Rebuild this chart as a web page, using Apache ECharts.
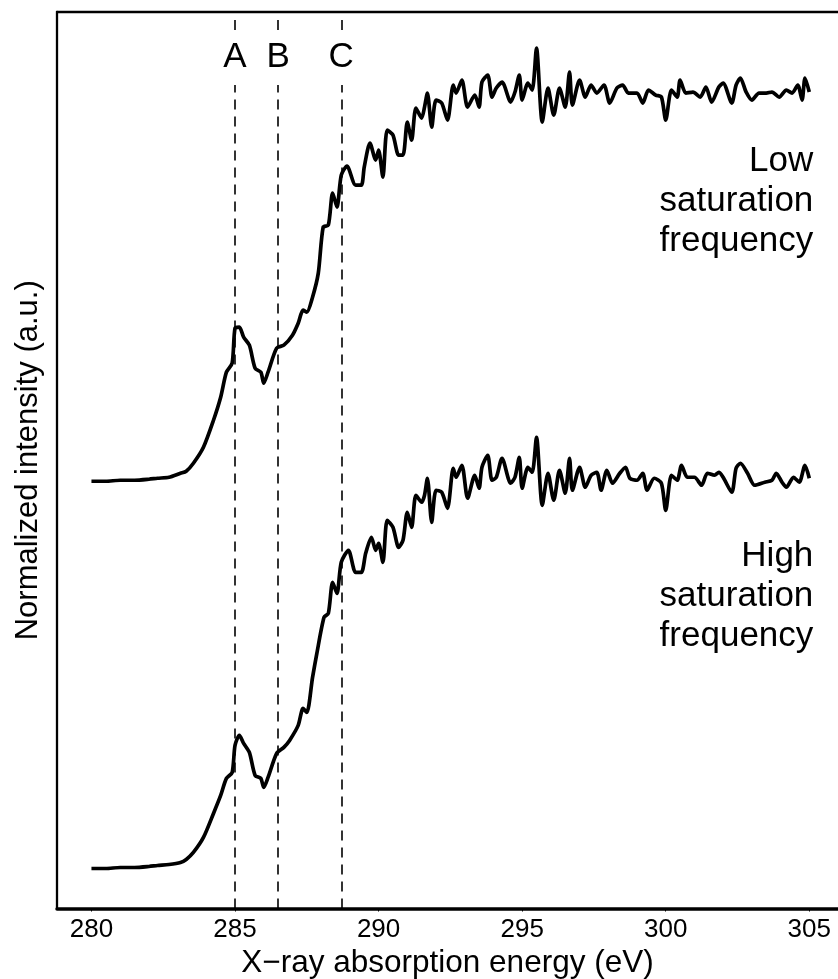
<!DOCTYPE html>
<html>
<head>
<meta charset="utf-8">
<script src="https://cdn.jsdelivr.net/npm/echarts@6/dist/echarts.min.js"></script>
<style>html,body{margin:0;padding:0;background:#fff;}#chart{width:838px;height:979px;}</style>
</head>
<body>
<div id="chart"></div>
<script>
// ---- Data (energy in eV, intensity in a.u., curves offset vertically) ----
const lowEnergy = [280.0,280.5,281.0,281.5,282.0,282.3,282.7,283.1,283.3,283.55,283.9,284.25,284.5,284.7,284.9,285.0,285.15,285.3,285.5,285.7,285.9,286.0,286.15,286.45,286.7,287.0,287.2,287.37,287.5,287.7,287.9,288.07,288.25,288.4,288.55,288.7,288.9,289.2,289.4,289.5,289.7,289.9,290.0,290.15,290.3,290.5,290.7,290.85,291.0,291.15,291.3,291.5,291.6,291.7,291.85,292.0,292.2,292.4,292.6,292.7,292.9,293.1,293.35,293.5,293.6,293.8,293.95,294.1,294.3,294.6,294.75,294.9,295.0,295.2,295.35,295.5,295.7,295.9,296.1,296.3,296.5,296.65,296.75,297.0,297.2,297.4,297.6,297.85,298.05,298.3,298.5,298.7,299.0,299.2,299.4,299.65,299.85,300.0,300.2,300.4,300.5,300.7,300.95,301.2,301.4,301.6,301.85,302.0,302.3,302.45,302.6,302.8,303.0,303.25,303.5,303.7,303.95,304.2,304.4,304.6,304.75,304.85,305.0];
const lowIntensity = [4.27,4.27,4.28,4.28,4.29,4.30,4.31,4.35,4.37,4.45,4.61,4.88,5.11,5.36,5.45,5.80,5.81,5.71,5.63,5.40,5.36,5.25,5.36,5.60,5.63,5.73,5.85,5.98,5.96,6.11,6.35,6.81,6.83,7.15,7.01,7.33,7.42,7.23,7.23,7.41,7.65,7.48,7.58,7.31,7.78,7.73,7.53,7.53,7.86,7.68,8.00,7.90,8.01,8.15,7.81,8.08,8.05,7.88,8.23,8.15,8.28,8.01,8.13,8.01,8.26,8.33,8.11,8.20,8.26,8.06,8.16,8.33,8.08,8.25,8.18,8.60,7.86,8.20,7.93,8.20,8.01,8.36,8.03,8.28,8.11,8.23,8.15,8.23,8.05,8.20,8.23,8.15,8.15,8.05,8.18,8.13,8.11,7.88,8.18,8.11,8.28,8.15,8.16,8.11,8.21,8.06,8.21,8.25,8.05,8.23,8.30,8.16,8.08,8.15,8.15,8.16,8.11,8.18,8.15,8.23,8.08,8.30,8.16];

const highEnergy = [280.0,280.5,281.0,281.5,282.0,282.3,282.7,283.1,283.3,283.55,283.9,284.25,284.5,284.7,284.9,285.0,285.15,285.3,285.5,285.7,285.9,286.0,286.15,286.45,286.7,286.9,287.2,287.37,287.5,287.7,287.85,288.1,288.25,288.4,288.55,288.7,288.95,289.2,289.4,289.55,289.75,289.9,290.0,290.15,290.3,290.5,290.7,290.85,291.0,291.15,291.3,291.5,291.6,291.7,291.85,292.0,292.2,292.4,292.6,292.7,292.9,293.1,293.35,293.5,293.6,293.8,293.95,294.1,294.3,294.6,294.75,294.9,295.0,295.2,295.35,295.5,295.7,295.9,296.1,296.3,296.5,296.65,296.75,297.0,297.2,297.4,297.6,297.75,297.95,298.15,298.4,298.6,298.75,299.0,299.2,299.35,299.6,299.85,300.0,300.2,300.4,300.55,300.75,301.0,301.25,301.45,301.7,301.85,302.0,302.3,302.45,302.6,302.85,303.1,303.45,303.7,303.85,304.05,304.2,304.45,304.65,304.85,305.0];
const highIntensity = [0.40,0.40,0.41,0.41,0.42,0.43,0.44,0.46,0.49,0.56,0.71,0.95,1.13,1.30,1.36,1.63,1.73,1.65,1.56,1.33,1.30,1.21,1.31,1.55,1.61,1.68,1.83,2.00,1.96,2.31,2.55,2.91,2.95,3.26,3.15,3.46,3.58,3.36,3.36,3.55,3.71,3.58,3.65,3.46,3.88,3.81,3.61,3.68,3.96,3.81,4.13,4.06,4.13,4.30,3.86,4.18,4.16,4.00,4.40,4.31,4.43,4.10,4.33,4.20,4.41,4.53,4.28,4.31,4.50,4.25,4.31,4.51,4.20,4.41,4.36,4.71,4.03,4.35,4.08,4.38,4.15,4.50,4.18,4.41,4.21,4.33,4.36,4.18,4.38,4.25,4.35,4.41,4.30,4.28,4.35,4.18,4.30,4.25,3.98,4.33,4.28,4.43,4.31,4.31,4.23,4.35,4.33,4.36,4.31,4.16,4.40,4.45,4.35,4.23,4.26,4.28,4.35,4.26,4.21,4.31,4.26,4.43,4.30];

const refEnergies = [285.0, 286.5, 288.7];
const refLabels = ['A', 'B', 'C'];
const xTickValues = [280, 285, 290, 295, 300, 305];
const curveNotes = ['Low\nsaturation\nfrequency', 'High\nsaturation\nfrequency'];
const curveNoteLevels = [7.07, 3.12];
const noteEnergy = 305.14;

// ---- Chart ----
const FONT = "'Liberation Sans', Arial, Helvetica, sans-serif";
const Y_MIN = 0, Y_MAX = 8.96;
const LABEL_LEVEL = 8.51, GAP_LOW = 8.23, GAP_HIGH = 8.78;

const chart = echarts.init(document.getElementById('chart'), null, {renderer: 'canvas'});

const refLines = [];
refEnergies.forEach(e => {
  refLines.push([{coord: [e, Y_MIN]}, {coord: [e, GAP_LOW]}]);
  refLines.push([{coord: [e, GAP_HIGH]}, {coord: [e, Y_MAX]}]);
});

const option = {
  animation: false,
  backgroundColor: '#fff',
  grid: {left: 57, right: 0, top: 12, bottom: 70.5, containLabel: false, outerBoundsMode: 'none'},
  xAxis: [{
    type: 'value', min: 278.8, max: 306, position: 'bottom',
    name: 'X\u2212ray absorption energy (eV)', nameLocation: 'middle', nameGap: 25,
    nameTextStyle: {fontFamily: FONT, fontSize: 31.5, color: '#000'},
    axisLine: {show: true, onZero: false, lineStyle: {color: '#000', width: 3.5}},
    axisTick: {show: true, length: 3, customValues: xTickValues, lineStyle: {color: '#000', width: 1}},
    axisLabel: {show: true, customValues: xTickValues, margin: 8, fontFamily: FONT, fontSize: 26, color: '#000'},
    splitLine: {show: false}
  }, {
    type: 'value', min: 278.8, max: 306, position: 'top',
    axisLine: {show: true, onZero: false, lineStyle: {color: '#000', width: 2.3}},
    axisTick: {show: false}, axisLabel: {show: false}, splitLine: {show: false}
  }],
  yAxis: {
    type: 'value', min: Y_MIN, max: Y_MAX,
    name: 'Normalized intensity (a.u.)', nameLocation: 'middle', nameGap: 13, nameRotate: 90,
    nameTextStyle: {fontFamily: FONT, fontSize: 31, color: '#000'},
    axisLine: {show: true, onZero: false, lineStyle: {color: '#000', width: 2.3}},
    axisTick: {show: false}, axisLabel: {show: false}, splitLine: {show: false}
  },
  series: [
    {
      name: 'Low saturation frequency', type: 'line', xAxisIndex: 0,
      data: lowEnergy.map((e, i) => [e, lowIntensity[i]]),
      showSymbol: false, smooth: 0.25,
      lineStyle: {color: '#000', width: 3.7, join: 'round'},
      z: 3,
      markLine: {
        silent: true, symbol: ['none', 'none'], label: {show: false},
        lineStyle: {color: '#000', width: 1.6, type: [10, 7]},
        data: refLines
      }
    },
    {
      name: 'High saturation frequency', type: 'line', xAxisIndex: 0,
      data: highEnergy.map((e, i) => [e, highIntensity[i]]),
      showSymbol: false, smooth: 0.25,
      lineStyle: {color: '#000', width: 3.7, join: 'round'},
      z: 3
    },
    {
      name: 'refLabels', type: 'scatter', xAxisIndex: 0, symbolSize: 0, silent: true,
      itemStyle: {color: '#000', opacity: 1},
      data: refEnergies.map((e, i) => ({value: [e, LABEL_LEVEL], name: refLabels[i]})),
      label: {show: true, position: 'inside', formatter: p => p.name, opacity: 1,
              fontFamily: FONT, fontSize: 35, color: '#000'}
    },
    {
      name: 'notes', type: 'scatter', xAxisIndex: 0, symbolSize: 0, silent: true,
      itemStyle: {color: '#000', opacity: 1},
      data: curveNoteLevels.map((v, i) => ({value: [noteEnergy, v], name: curveNotes[i]})),
      label: {show: true, position: 'left', distance: 0, align: 'right', verticalAlign: 'middle', opacity: 1,
              formatter: p => p.name, fontFamily: FONT, fontSize: 35, lineHeight: 40, color: '#000'}
    }
  ]
};
chart.setOption(option);
</script>
</body>
</html>
